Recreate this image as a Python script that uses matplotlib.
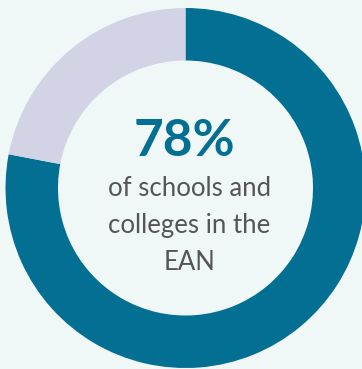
import matplotlib.pyplot as plt

# Share of schools and colleges in the EAN
labels = ["In the EAN", "Not in the EAN"]
values = [78, 22]
colors = ["#036f93", "#d2d3e5"]
headline = "78%"
caption = "of schools and\ncolleges in the\nEAN"

bg = "#f0f8f7"
W, H = 362, 369
fig = plt.figure(figsize=(W / 100, H / 100), dpi=100, facecolor=bg)
ax = fig.add_axes([0, 0, 1, 1])
ax.set_facecolor(bg)

cx, cy = 185.5, H - 188
r_out, r_in = 180, 127.5
ax.pie(values, colors=colors, startangle=90, counterclock=False,
       center=(cx, cy), radius=r_out,
       wedgeprops=dict(width=r_out - r_in, linewidth=0))
ax.set_xlim(0, W)
ax.set_ylim(0, H)
ax.set_aspect("equal")
ax.axis("off")

ax.text(cx - 1, H - 141, headline, ha="center", va="center", fontsize=37,
        fontweight="bold", color="#036f93", family="Lato")
ax.text(cx + 4, H - 226, caption, ha="center", va="center", fontsize=18.5,
        color="#555555", family="Lato", linespacing=1.6)

fig.savefig("out.png", dpi=100, facecolor=bg)
